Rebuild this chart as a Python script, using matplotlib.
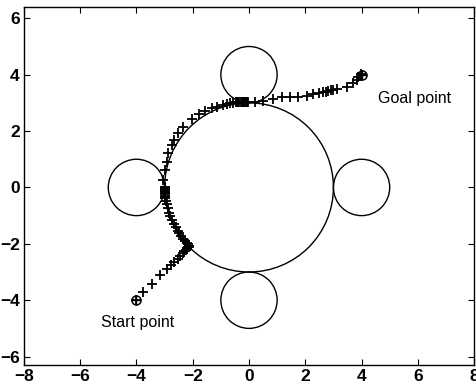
import matplotlib
matplotlib.use("Agg")
import matplotlib.pyplot as plt
from matplotlib.patches import Circle

plt.rcParams["font.family"] = ["Liberation Sans", "DejaVu Sans"]

# obstacles: centre x, centre y, radius
obs_x = [0, 0, -4, 4, 0]
obs_y = [0, 4, 0, 0, -4]
obs_r = [3, 1, 1, 1, 1]

# trajectory points
path_x = [-4.0, -3.78, -3.46, -3.15, -2.93, -2.77, -2.65, -2.54, -2.44, -2.36, -2.30, -2.25,
          -2.22, -2.19, -2.17, -2.15, -2.13, -2.12, -2.14, -2.18, -2.22, -2.27, -2.33, -2.40,
          -2.47, -2.54, -2.61, -2.68, -2.74, -2.80, -2.85, -2.89, -2.93, -2.96, -2.98, -3.0,
          -3.0, -3.0, -3.0, -3.0, -3.0, -3.0, -3.0, -3.0, -3.0, -3.0,
          -3.05, -2.99, -2.93, -2.87, -2.75, -2.65, -2.51, -2.33, -2.04, -1.77, -1.56, -1.33,
          -1.13, -0.94, -0.79, -0.68, -0.56, -0.46, -0.42, -0.38, -0.34, -0.30, -0.26, -0.22,
          -0.18, -0.14, -0.10, -0.06, -0.02,
          0.21, 0.51, 0.87, 1.16, 1.46, 1.75, 2.05, 2.29, 2.47, 2.64, 2.74, 2.82, 2.92, 3.0,
          3.12, 3.47, 3.71, 3.83, 3.89, 3.97, 4.0]
path_y = [-4.0, -3.71, -3.42, -3.10, -2.89, -2.76, -2.64, -2.54, -2.44, -2.34, -2.27, -2.21,
          -2.17, -2.14, -2.12, -2.11, -2.10, -2.09, -2.06, -2.01, -1.96, -1.89, -1.82, -1.73,
          -1.63, -1.53, -1.42, -1.30, -1.17, -1.03, -0.89, -0.74, -0.60, -0.48, -0.38, -0.33,
          -0.29, -0.25, -0.21, -0.17, -0.13, -0.09, -0.06, -0.03, 0.0, 0.03,
          0.27, 0.63, 0.92, 1.22, 1.51, 1.69, 1.92, 2.16, 2.43, 2.61, 2.71, 2.81,
          2.87, 2.93, 2.96, 2.99, 3.01, 3.03, 3.03, 3.03, 3.03, 3.03, 3.03, 3.03,
          3.03, 3.03, 3.03, 3.03, 3.03,
          3.04, 3.07, 3.13, 3.20, 3.22, 3.22, 3.26, 3.30, 3.34, 3.37, 3.40, 3.42, 3.44, 3.46,
          3.48, 3.58, 3.69, 3.81, 3.93, 4.02, 4.0]

start = (-4, -4)
goal = (4, 4)

fig = plt.figure(figsize=(4.77, 3.90), dpi=100)
ax = fig.add_axes([0.050, 0.064, 0.944, 0.918])

for cx, cy, r in zip(obs_x, obs_y, obs_r):
    ax.add_patch(Circle((cx, cy), r, fill=False, ec="black", lw=1.0))

ax.plot(path_x, path_y, ls="none", marker="+", ms=7, mew=1.3, color="black")

for px, py in (start, goal):
    ax.plot(px, py, marker="o", ms=6.5, mfc="none", mec="black", mew=1.1)
    ax.plot(px, py, marker="+", ms=6.5, mew=1.0, color="black")

ax.text(4.6, 3.15, "Goal point", fontsize=11.5, va="center")
ax.text(-5.25, -4.8, "Start point", fontsize=11.5, va="center")

ax.set_xlim(-8, 8)
ax.set_ylim(-6.3, 6.4)
ax.set_xticks(range(-8, 9, 2))
ax.set_yticks(range(-6, 7, 2))
ax.tick_params(direction="in", top=True, right=True, length=4, labelsize=12.5, pad=3)
for lab in ax.get_xticklabels() + ax.get_yticklabels():
    lab.set_fontweight("bold")
for s in ax.spines.values():
    s.set_linewidth(1.0)

fig.savefig("out.png", dpi=100)
